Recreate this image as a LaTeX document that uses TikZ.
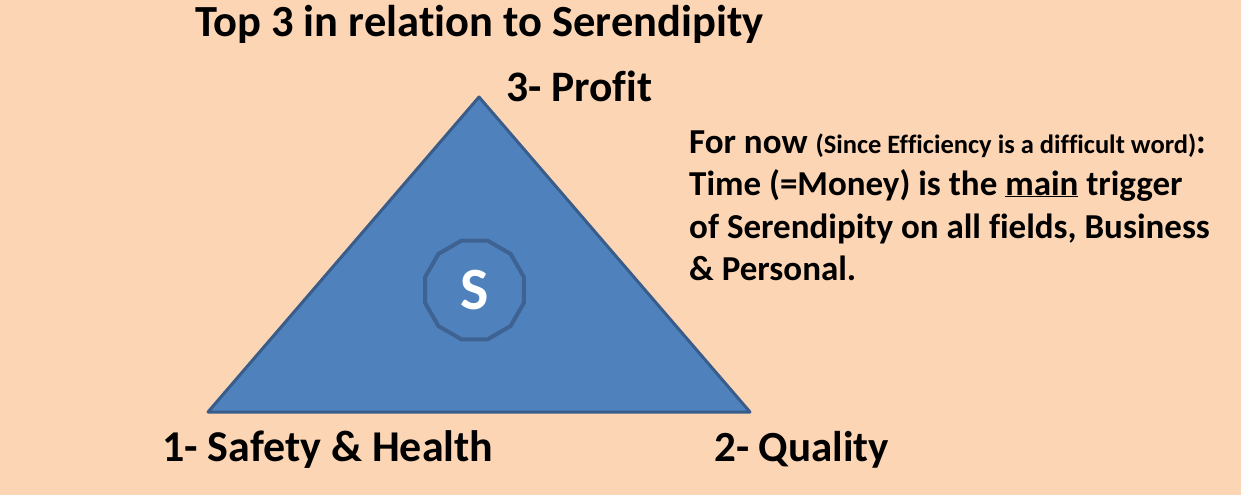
\documentclass[tikz,border=0pt]{standalone}
\usepackage{fontspec}
\setmainfont{Carlito}[Ligatures=NoCommon]
\usetikzlibrary{shapes.geometric}
\definecolor{bgpeach}{RGB}{252,213,181}
\definecolor{trifill}{RGB}{79,129,189}
\definecolor{triedge}{RGB}{56,93,138}
\definecolor{octedge}{RGB}{62,98,145}
\tikzset{
  lbl/.style={anchor=base west, inner sep=0pt, text=black},
  para/.style={lbl, font=\bfseries\fontsize{35}{40}\selectfont},
}
\begin{document}
\begin{tikzpicture}[x=1pt,y=-1pt]
\fill[bgpeach] (0,0) rectangle (1241,495);
\useasboundingbox (0,0) rectangle (1241,495);
\coordinate (apex) at (479,97);
\coordinate (bl) at (208,412);
\coordinate (br) at (750,412);
\filldraw[fill=trifill, draw=triedge, line width=3pt, line join=round] (apex) -- (br) -- (bl) -- cycle;
\node (S) [regular polygon, regular polygon sides=12, minimum size=102pt, inner sep=0pt,
  fill=trifill, draw=octedge, line width=4pt, text=white,
  font=\bfseries\fontsize{60}{66}\selectfont] at (474.5,290) {S};
\node (title) [lbl, font=\bfseries\fontsize{44.5}{50}\selectfont] at (195,37) {Top 3 in relation to Serendipity};
\node (profit) [lbl, font=\bfseries\fontsize{43.5}{50}\selectfont] at (506,101) {3- Profit};
\node (safety) [lbl, font=\bfseries\fontsize{44}{50}\selectfont] at (162,461) {1- Safety \& Health};
\node (quality) [lbl, font=\bfseries\fontsize{43}{50}\selectfont] at (714,461) {2- Quality};
\node (l1) [para] at (689,153) {For now {\fontsize{26.5}{30}\selectfont (Since Efficiency is a difficult word)}:};
\node (l2) [para] at (689,195) {Time (=Money) is the \underline{main} trigger};
\node (l3) [para] at (689,238) {of Serendipity on all fields, Business};
\node (l4) [para] at (689,280) {\& Personal.};
\end{tikzpicture}
\end{document}
